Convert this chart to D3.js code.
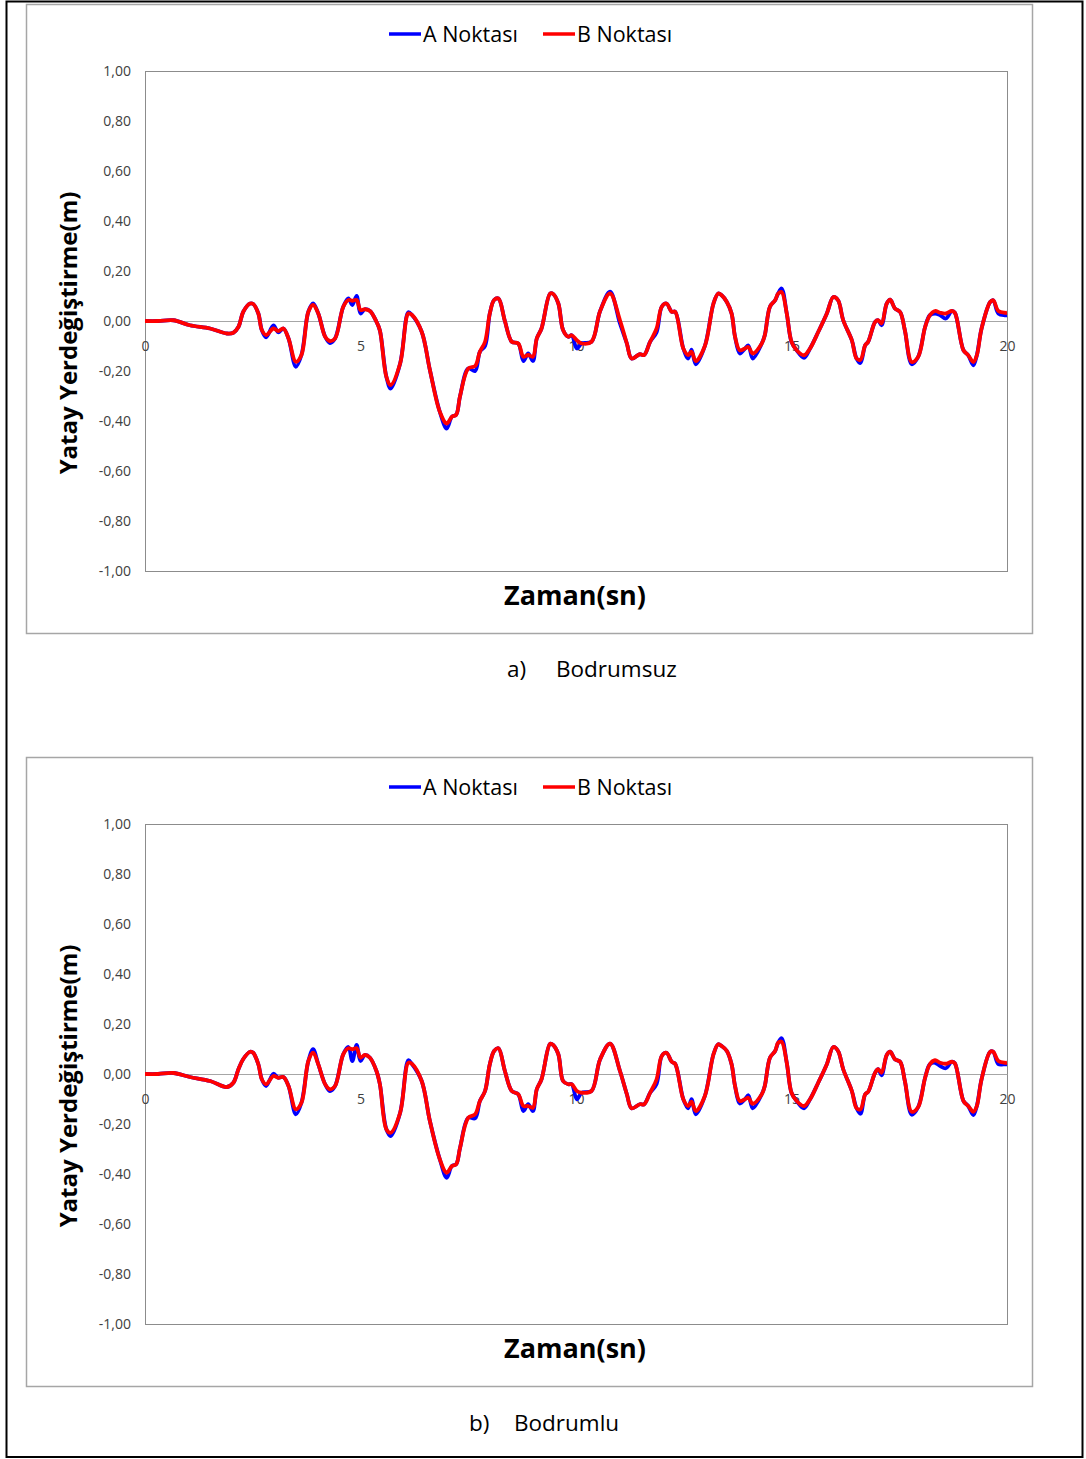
<!DOCTYPE html>
<html lang="tr">
<head>
<meta charset="UTF-8">
<title>Yatay Yerdeğiştirme</title>
<script src="https://d3js.org/d3.v7.min.js"></script>
<style>
  body { margin: 0; background: #fff; }
  svg { display: block; }
</style>
</head>
<body>
<script>
// zaman (sn)
var time = [0, 0.3, 0.66, 1.04, 1.51, 1.9, 2.05, 2.17, 2.28, 2.44, 2.51, 2.63, 2.71, 2.81, 2.98, 3.09, 3.21, 3.33, 3.5, 3.63,
  3.79, 3.9, 4.02, 4.18, 4.29, 4.41, 4.6, 4.72, 4.81, 4.91, 5.0, 5.1, 5.22, 5.37, 5.45, 5.6, 5.7, 5.92, 6.11, 6.19,
  6.42, 6.61, 6.84, 7.0, 7.12, 7.22, 7.31, 7.5, 7.66, 7.77, 7.89, 8.0, 8.1, 8.2, 8.35, 8.51, 8.66, 8.78, 8.89, 9.0,
  9.09, 9.2, 9.4, 9.47, 9.59, 9.7, 9.82, 9.9, 10.02, 10.13, 10.36, 10.56, 10.79, 11.02, 11.18, 11.29, 11.48, 11.58, 11.72, 11.87,
  11.99, 12.1, 12.22, 12.3, 12.49, 12.6, 12.68, 12.78, 12.99, 13.19, 13.3, 13.38, 13.5, 13.61, 13.69, 13.8, 13.92, 14.0, 14.1, 14.31,
  14.38, 14.5, 14.62, 14.69, 14.77, 14.89, 15.0, 15.12, 15.29, 15.43, 15.62, 15.82, 15.97, 16.08, 16.2, 16.4, 16.51, 16.6, 16.71, 16.78,
  16.94, 17.01, 17.09, 17.21, 17.29, 17.4, 17.52, 17.63, 17.79, 17.94, 18.1, 18.21, 18.33, 18.45, 18.58, 18.72, 18.79, 18.99, 19.1, 19.22,
  19.3, 19.41, 19.61, 19.68, 19.8, 19.95, 20.0];

// a) Bodrumsuz
var bodrumsuzA = [0, 0, 0.003, -0.017, -0.03, -0.05, -0.047, -0.023, 0.037, 0.07, 0.068, 0.03, -0.036, -0.065, -0.018, -0.045, -0.03, -0.07, -0.183, -0.136,
  0.037, 0.07, 0.03, -0.063, -0.088, -0.07, 0.057, 0.09, 0.064, 0.1, 0.03, 0.047, 0.04, -0.003, -0.038, -0.223, -0.27, -0.17, 0.035, 0.025,
  -0.043, -0.196, -0.363, -0.43, -0.383, -0.375, -0.3, -0.19, -0.2, -0.123, -0.1, 0.03, 0.084, 0.09, 0.0, -0.083, -0.09, -0.16, -0.13, -0.16,
  -0.07, -0.03, 0.11, 0.108, 0.07, -0.036, -0.063, -0.057, -0.11, -0.09, -0.083, 0.04, 0.117, -0.01, -0.09, -0.15, -0.133, -0.136, -0.083, -0.045,
  0.057, 0.07, 0.037, 0.037, -0.11, -0.15, -0.115, -0.173, -0.1, 0.07, 0.11, 0.103, 0.076, 0.03, -0.063, -0.13, -0.11, -0.098, -0.15, -0.09,
  -0.057, 0.057, 0.083, 0.11, 0.13, 0.03, -0.083, -0.117, -0.147, -0.11, -0.044, 0.03, 0.096, 0.083, 0.003, -0.077, -0.15, -0.168, -0.097, -0.083,
  -0.004, 0.003, -0.017, 0.07, 0.085, 0.05, 0.036, -0.037, -0.173, -0.143, -0.024, 0.023, 0.03, 0.023, 0.01, 0.04, 0.033, -0.117, -0.137, -0.177,
  -0.137, -0.03, 0.076, 0.083, 0.03, 0.023, 0.023];
var bodrumsuzB = [0, 0, 0.003, -0.017, -0.03, -0.05, -0.047, -0.023, 0.037, 0.07, 0.068, 0.03, -0.036, -0.056, -0.03, -0.04, -0.03, -0.07, -0.163, -0.136,
  0.037, 0.064, 0.03, -0.063, -0.08, -0.07, 0.057, 0.084, 0.081, 0.084, 0.044, 0.047, 0.04, -0.003, -0.038, -0.223, -0.256, -0.17, 0.03, 0.025,
  -0.043, -0.196, -0.363, -0.41, -0.383, -0.375, -0.3, -0.19, -0.18, -0.123, -0.083, 0.03, 0.084, 0.09, 0.0, -0.083, -0.09, -0.143, -0.136, -0.143,
  -0.07, -0.03, 0.11, 0.108, 0.07, -0.036, -0.063, -0.057, -0.077, -0.09, -0.083, 0.04, 0.11, 0.003, -0.09, -0.15, -0.133, -0.136, -0.083, -0.03,
  0.057, 0.07, 0.037, 0.037, -0.11, -0.136, -0.123, -0.16, -0.1, 0.07, 0.11, 0.103, 0.076, 0.03, -0.063, -0.117, -0.11, -0.104, -0.13, -0.09,
  -0.057, 0.057, 0.083, 0.11, 0.116, 0.03, -0.083, -0.117, -0.137, -0.11, -0.044, 0.03, 0.096, 0.083, 0.003, -0.077, -0.15, -0.155, -0.097, -0.083,
  -0.004, 0.003, -0.01, 0.07, 0.085, 0.05, 0.036, -0.037, -0.164, -0.143, -0.024, 0.023, 0.04, 0.033, 0.03, 0.04, 0.033, -0.117, -0.137, -0.164,
  -0.137, -0.03, 0.076, 0.083, 0.04, 0.033, 0.033];

// b) Bodrumlu
var bodrumluA = [0, 0, 0.004, -0.012, -0.028, -0.052, -0.035, 0.02, 0.06, 0.089, 0.085, 0.039, -0.021, -0.048, 0.001, -0.015, -0.012, -0.048, -0.161, -0.115,
  0.052, 0.099, 0.039, -0.041, -0.068, -0.048, 0.079, 0.108, 0.052, 0.116, 0.052, 0.076, 0.065, 0.012, -0.041, -0.221, -0.248, -0.155, 0.055, 0.041,
  -0.028, -0.188, -0.341, -0.415, -0.368, -0.361, -0.295, -0.175, -0.177, -0.108, -0.068, 0.039, 0.092, 0.103, 0.012, -0.068, -0.081, -0.148, -0.121, -0.148,
  -0.061, -0.021, 0.121, 0.116, 0.079, -0.028, -0.041, -0.041, -0.101, -0.075, -0.068, 0.059, 0.121, 0.012, -0.081, -0.137, -0.121, -0.121, -0.075, -0.04,
  0.072, 0.085, 0.049, 0.041, -0.101, -0.137, -0.101, -0.161, -0.088, 0.079, 0.119, 0.112, 0.092, 0.039, -0.048, -0.118, -0.101, -0.085, -0.137, -0.081,
  -0.048, 0.065, 0.092, 0.125, 0.143, 0.045, -0.075, -0.108, -0.137, -0.101, -0.035, 0.039, 0.108, 0.092, 0.019, -0.068, -0.137, -0.159, -0.081, -0.071,
  0.005, 0.019, -0.005, 0.076, 0.089, 0.059, 0.049, -0.028, -0.163, -0.132, -0.015, 0.039, 0.045, 0.032, 0.023, 0.049, 0.043, -0.108, -0.128, -0.164,
  -0.128, -0.021, 0.089, 0.089, 0.039, 0.039, 0.039];
var bodrumluB = [0, 0, 0.004, -0.012, -0.028, -0.052, -0.035, 0.02, 0.06, 0.089, 0.085, 0.039, -0.021, -0.041, -0.008, -0.015, -0.012, -0.048, -0.141, -0.115,
  0.052, 0.085, 0.039, -0.041, -0.061, -0.048, 0.079, 0.103, 0.099, 0.103, 0.065, 0.076, 0.065, 0.012, -0.041, -0.221, -0.235, -0.155, 0.045, 0.041,
  -0.028, -0.188, -0.341, -0.395, -0.368, -0.361, -0.295, -0.175, -0.161, -0.108, -0.068, 0.039, 0.092, 0.103, 0.012, -0.068, -0.081, -0.128, -0.128, -0.135,
  -0.061, -0.021, 0.121, 0.116, 0.079, -0.028, -0.041, -0.041, -0.068, -0.075, -0.068, 0.059, 0.121, 0.012, -0.081, -0.137, -0.121, -0.121, -0.075, -0.021,
  0.072, 0.085, 0.049, 0.041, -0.101, -0.128, -0.111, -0.148, -0.088, 0.079, 0.119, 0.112, 0.092, 0.039, -0.048, -0.108, -0.101, -0.095, -0.119, -0.081,
  -0.048, 0.065, 0.092, 0.125, 0.129, 0.045, -0.075, -0.108, -0.128, -0.101, -0.035, 0.039, 0.108, 0.092, 0.019, -0.068, -0.137, -0.141, -0.081, -0.071,
  0.005, 0.019, 0.005, 0.076, 0.089, 0.059, 0.049, -0.028, -0.151, -0.132, -0.015, 0.039, 0.055, 0.045, 0.041, 0.049, 0.043, -0.108, -0.128, -0.151,
  -0.128, -0.021, 0.089, 0.089, 0.052, 0.045, 0.045];

var xTicks = [0, 5, 10, 15, 20];
var yTicks = [-1, -0.8, -0.6, -0.4, -0.2, 0, 0.2, 0.4, 0.6, 0.8, 1];
var seriesNames = ["A Noktası", "B Noktası"];
var seriesColors = ["#0000ff", "#ff0000"];

var W = 1086, H = 1459;
var svg = d3.select("body").append("svg").attr("width", W).attr("height", H);

// outer frame
svg.append("rect").attr("x", 6.5).attr("y", 1.5).attr("width", 1076).attr("height", 1455.5)
  .attr("fill", "none").attr("stroke", "#000").attr("stroke-width", 2);

var fmt = function(d) { return d3.format(".2f")(d).replace(".", ",").replace("−", "-"); };

function drawChart(top, dataA, dataB, caption1, caption2, capY, capX1, capX2) {
  var g = svg.append("g").attr("transform", "translate(0," + top + ")");

  // chart box
  g.append("rect").attr("x", 26.5).attr("y", 0.5).attr("width", 1006).attr("height", 629)
    .attr("fill", "#fff").attr("stroke", "#a6a6a6").attr("stroke-width", 1.5);

  var x = d3.scaleLinear().domain([0, 20]).range([145, 1007]);
  var y = d3.scaleLinear().domain([-1, 1]).range([567, 67]);

  // plot area
  g.append("rect").attr("x", 145.5).attr("y", 67.5).attr("width", 862).attr("height", 500)
    .attr("fill", "none").attr("stroke", "#8c8c8c").attr("stroke-width", 1);

  // y axis labels
  var yAxis = d3.axisLeft(y).tickValues(yTicks).tickSize(0).tickPadding(14).tickFormat(fmt);
  var ya = g.append("g").attr("transform", "translate(145,0)").call(yAxis);
  ya.select(".domain").remove();
  ya.selectAll("text").attr("font-family", "Open Sans, sans-serif").attr("font-size", 14).attr("fill", "#404040");

  // zero line + x labels
  var xAxis = d3.axisBottom(x).tickValues(xTicks).tickSize(0).tickPadding(20).tickFormat(d3.format("d"));
  var xa = g.append("g").attr("transform", "translate(0," + y(0) + ")").call(xAxis);
  xa.select(".domain").attr("stroke", "#a6a6a6").attr("stroke-width", 1.2);
  xa.selectAll("text").attr("font-family", "Open Sans, sans-serif").attr("font-size", 14).attr("fill", "#404040");

  var line = d3.line().x(function(d) { return x(d[0]); }).y(function(d) { return y(d[1]); })
    .curve(d3.curveCatmullRom.alpha(0.5));

  [dataA, dataB].forEach(function(vals, i) {
    var pts = time.map(function(t, k) { return [t, vals[k]]; });
    g.append("path").datum(pts).attr("d", line).attr("fill", "none")
      .attr("stroke", seriesColors[i]).attr("stroke-width", 3.8).attr("stroke-linejoin", "round");
  });

  // legend
  var legX = [389, 543];
  seriesNames.forEach(function(n, i) {
    g.append("line").attr("x1", legX[i]).attr("x2", legX[i] + 32).attr("y1", 30).attr("y2", 30)
      .attr("stroke", seriesColors[i]).attr("stroke-width", 3.5);
    g.append("text").attr("x", legX[i] + 34).attr("y", 37.5).text(n)
      .attr("font-family", "Open Sans, sans-serif").attr("font-size", 21.5).attr("fill", "#000");
  });

  // axis titles
  g.append("text").attr("transform", "translate(77,329) rotate(-90)").attr("text-anchor", "middle")
    .text("Yatay Yerdeğiştirme(m)").attr("font-family", "Open Sans, sans-serif").attr("font-weight", "bold")
    .attr("font-size", 24).attr("fill", "#000");
  g.append("text").attr("x", 575).attr("y", 601).attr("text-anchor", "middle").text("Zaman(sn)")
    .attr("font-family", "Open Sans, sans-serif").attr("font-weight", "bold").attr("font-size", 27).attr("fill", "#000");

  // caption
  svg.append("text").attr("x", capX1).attr("y", capY).text(caption1)
    .attr("font-family", "Open Sans, sans-serif").attr("font-size", 22.5).attr("fill", "#000");
  svg.append("text").attr("x", capX2).attr("y", capY).text(caption2)
    .attr("font-family", "Open Sans, sans-serif").attr("font-size", 22.5).attr("fill", "#000");
}

drawChart(4, bodrumsuzA, bodrumsuzB, "a)", "Bodrumsuz", 677, 507, 556);
drawChart(757, bodrumluA, bodrumluB, "b)", "Bodrumlu", 1431, 469, 514);
</script>
</body>
</html>
